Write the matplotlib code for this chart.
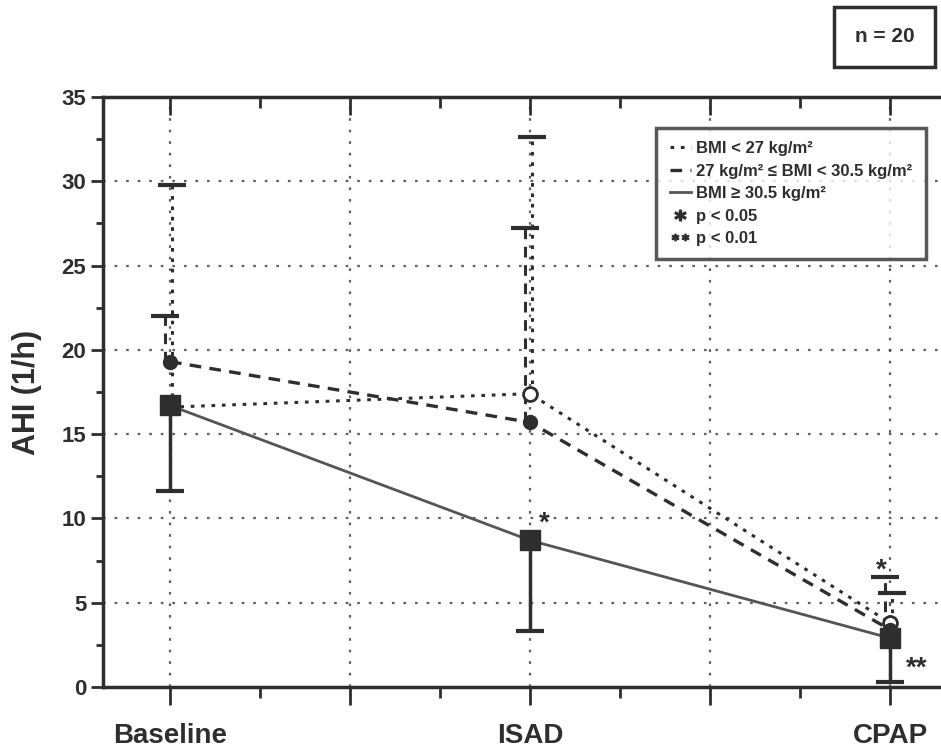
import matplotlib
matplotlib.use("Agg")
import matplotlib.pyplot as plt
from matplotlib.lines import Line2D
from matplotlib.ticker import MultipleLocator, FuncFormatter

plt.rcParams['font.family'] = ['Liberation Sans', 'DejaVu Sans']
plt.rcParams['font.weight'] = 'bold'

# datos
categorias = ['Baseline', 'ISAD', 'CPAP']
x_pos = [0, 1, 2]

bmi_bajo = [16.6, 17.4, 3.8]        # BMI < 27
bmi_bajo_sup = [29.8, 32.6, 5.6]
bmi_medio = [19.3, 15.7, 3.4]       # 27 <= BMI < 30.5
bmi_medio_sup = [22.0, 27.2, 6.5]
bmi_alto = [16.7, 8.7, 2.9]         # BMI >= 30.5
bmi_alto_inf = [11.6, 3.3, 0.3]

# marcas de significancia: (x, y, texto)
signif = [(1.04, 9.7, '*'), (1.975, 6.9, '*'), (2.075, 1.1, '**')]

C = '#2e2e2e'
punteado = (0, (1.2, 2.2))
rayado = (0, (3.5, 2.5))

fig = plt.figure(figsize=(9.41, 7.51), dpi=100)
ax = fig.add_axes([103/941, 64/751, 854/941, 590/751])

ax.set_xlim(-0.186, 2.186)
ax.set_ylim(0, 35)

# grilla punteada
for yv in range(5, 35, 5):
    ax.axhline(yv, color='#444', lw=1.6, ls=(0, (1.2, 4)), alpha=0.85, zorder=1)
for xv in [0, 0.5, 1, 1.5, 2]:
    ax.axvline(xv, color='#444', lw=1.6, ls=(0, (1.2, 4)), alpha=0.85, zorder=1)

# barras de error
dx_bajo, dx_medio = 0.005, -0.015
xb = [x + dx_bajo for x in x_pos]
xm = [x + dx_medio for x in x_pos]
ax.vlines(xb, bmi_bajo, bmi_bajo_sup, colors=C, lw=2.2, linestyles=[punteado], zorder=3)
ax.plot(xb, bmi_bajo_sup, ls='none', marker='_', ms=20, mew=3, color=C, zorder=3)
ax.vlines(xm, bmi_medio, bmi_medio_sup, colors=C, lw=2.2, linestyles=[rayado], zorder=3)
ax.plot(xm, bmi_medio_sup, ls='none', marker='_', ms=20, mew=3, color=C, zorder=3)
ax.vlines(x_pos, bmi_alto_inf, bmi_alto, colors=C, lw=2.5, zorder=3)
ax.plot(x_pos, bmi_alto_inf, ls='none', marker='_', ms=20, mew=3, color=C, zorder=3)

# series
ax.plot(x_pos, bmi_bajo, color=C, lw=2.2, ls=punteado, marker='o', ms=10,
        mfc='white', mec=C, mew=2, zorder=4)
ax.plot(x_pos, bmi_medio, color=C, lw=2.4, ls=rayado, marker='o', ms=10,
        mfc=C, mec=C, zorder=5)
ax.plot(x_pos, bmi_alto, color='#555', lw=2.0, ls='-', marker='s', ms=15,
        mfc=C, mec=C, zorder=6)

for sx, sy, st in signif:
    ax.text(sx, sy, st, fontsize=20, fontweight='bold', color=C, ha='center', va='center')

# ejes
for s in ax.spines.values():
    s.set_color(C)
    s.set_linewidth(2.5)
ax.spines['right'].set_visible(False)
ax.yaxis.set_major_locator(MultipleLocator(5))
ax.yaxis.set_minor_locator(MultipleLocator(2.5))
ax.xaxis.set_major_locator(MultipleLocator(0.5))
ax.xaxis.set_minor_locator(MultipleLocator(0.25))
ax.xaxis.set_major_formatter(FuncFormatter(
    lambda v, p: categorias[int(round(v))] if abs(v - round(v)) < 1e-6 and 0 <= round(v) <= 2 else ''))
ax.tick_params(axis='y', which='major', direction='out', length=9, width=2, color=C,
               labelsize=16, pad=3, labelcolor=C)
ax.tick_params(axis='y', which='minor', direction='out', length=5, width=2, color=C)
ax.tick_params(axis='x', which='major', direction='out', length=13, width=2, color=C,
               labelsize=20, pad=13, labelcolor=C, top=True)
ax.tick_params(axis='x', which='minor', direction='out', length=8, width=2, color=C, top=True)
for t in ax.xaxis.get_ticklines(minor=False)[1::2] + ax.xaxis.get_ticklines(minor=True)[1::2]:
    t.set_marker(3)
for lab in ax.get_xticklabels() + ax.get_yticklabels():
    lab.set_fontweight('bold')

ax.set_ylabel('AHI (1/h)', fontsize=22, fontweight='bold', color=C, labelpad=14)

# leyenda
handles = [
    Line2D([], [], color=C, lw=2.2, ls=punteado),
    Line2D([], [], color=C, lw=2.4, ls=rayado),
    Line2D([], [], color='#555', lw=2.0, ls='-'),
    Line2D([], [], ls='none', marker='$*$', ms=8, color=C),
    Line2D([], [], ls='none', marker='$**$', ms=12, color=C),
]
labels = ['BMI < 27 kg/m²', '27 kg/m² ≤ BMI < 30.5 kg/m²', 'BMI ≥ 30.5 kg/m²',
          'p < 0.05', 'p < 0.01']
leg = ax.legend(handles, labels, loc='upper left', bbox_to_anchor=(0.638, 0.962),
                prop={'weight': 'bold', 'size': 12}, frameon=True, fancybox=False,
                handlelength=1.3, handletextpad=0.3, labelspacing=0.45, borderpad=0.8)
leg.get_frame().set_edgecolor(C)
leg.get_frame().set_linewidth(2.5)
for t in leg.get_texts():
    t.set_color(C)

fig.text(855/941, 1 - 37/751, 'n = 20', fontsize=15, fontweight='bold', color=C,
         ha='left', va='center',
         bbox=dict(boxstyle='square,pad=1.0', fc='white', ec=C, lw=2.5))

fig.savefig('out.png', dpi=100)
